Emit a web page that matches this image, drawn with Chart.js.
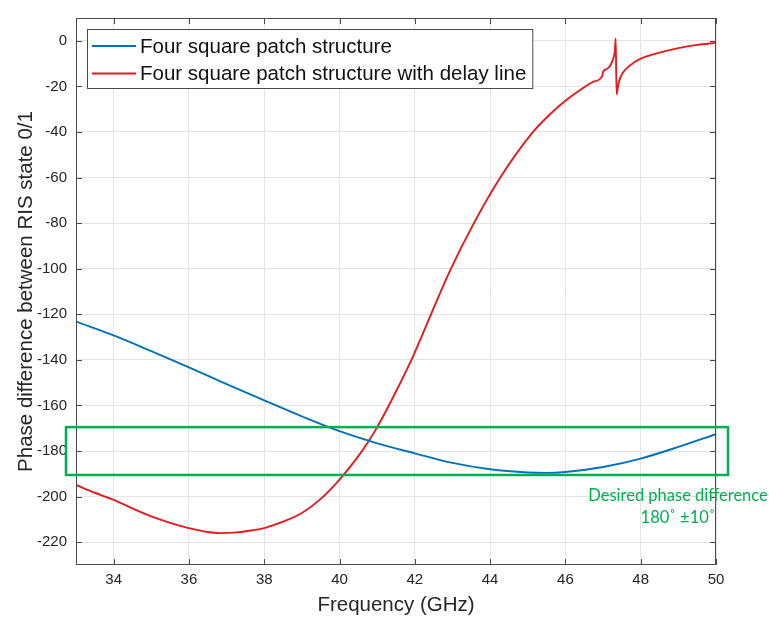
<!DOCTYPE html>
<html>
<head>
<meta charset="utf-8">
<script src="https://cdn.jsdelivr.net/npm/chart.js@4.4.0/dist/chart.umd.min.js"></script>
<style>
html,body{margin:0;padding:0;background:#ffffff;}
#wrap{width:769px;height:618px;position:relative;}
</style>
</head>
<body>
<div id="wrap"><canvas id="c" width="769" height="618"></canvas></div>
<script>
// ---- data ----
const seriesLabels = ["Four square patch structure", "Four square patch structure with delay line"];
const seriesColors = ["#0072BD", "#E8191C"];

const blueFreq = [33, 34, 35, 36, 37, 38, 39, 40, 41, 42, 43, 44, 45, 45.5, 46, 47, 48, 49, 50];
const blueVals = [-123.2, -129.3, -136.2, -143.3, -150.6, -157.8, -164.8, -171.3, -176.6, -181.0, -185.2, -188.0, -189.4, -189.6, -189.2, -187.0, -183.3, -178.2, -172.6];

const redFreq = [33, 33.5, 34, 34.5, 35, 35.5, 36, 36.5, 36.8, 37.2, 37.6, 38, 38.5, 39, 39.5, 40, 40.42, 40.76, 41, 41.31, 41.91, 42.43, 42.96, 43.57, 44.27, 45.14, 45.67, 46, 46.4, 46.74, 46.98, 47.0, 47.1, 47.2, 47.27, 47.31, 47.335, 47.36, 47.4, 47.45, 47.53, 47.7, 48, 48.5, 49, 49.5, 50];
const redVals = [-194.9, -198.3, -201.4, -205.2, -208.7, -211.5, -213.8, -215.5, -216.0, -215.8, -215.0, -213.8, -211.0, -207.2, -201.0, -192.5, -184, -176, -169.5, -160, -140, -120, -100, -80, -60, -40, -31, -26.3, -21.5, -18, -15.4, -13.6, -12.4, -10.6, -7.8, -5, 1.0, -23.5, -19.5, -16.5, -13.9, -11, -7.8, -5.2, -3.2, -1.8, -0.9];

const xTicks = [34, 36, 38, 40, 42, 44, 46, 48, 50];
const yTicks = [-220, -200, -180, -160, -140, -120, -100, -80, -60, -40, -20, 0];
const xRange = [33, 50];
const yRange = [-230, 10];

const bandLimits = [-190.5, -169.5];
const bandText = ["Desired phase difference", "180˚ ±10˚"];
const xTitle = "Frequency (GHz)";
const yTitle = "Phase difference between RIS state 0/1";

// ---- styles ----
const FONT = "'Liberation Sans', Arial, Helvetica, sans-serif";
const AXIS_COLOR = "#4a4a4a";
const GRID_COLOR = "#e4e4e4";
const TEXT_COLOR = "#262626";
const GREEN = "#00B050";

function toPoints(xs, ys) { return xs.map((x, i) => ({ x: x, y: ys[i] })); }

const framePlugin = {
  id: 'frame',
  afterDatasetsDraw(chart) {
    const ctx = chart.ctx;
    const a = chart.chartArea;
    const xs = chart.scales.x, ys = chart.scales.y;
    ctx.save();
    // box border
    ctx.strokeStyle = AXIS_COLOR;
    ctx.lineWidth = 1;
    ctx.strokeRect(a.left + 0.5, a.top + 0.5, a.right - a.left - 1, a.bottom - a.top - 1);
    // inward ticks
    const tl = 6;
    ctx.beginPath();
    xTicks.forEach(v => {
      const px = Math.round(xs.getPixelForValue(v)) + 0.5;
      ctx.moveTo(px, a.bottom); ctx.lineTo(px, a.bottom - tl);
      ctx.moveTo(px, a.top); ctx.lineTo(px, a.top + tl);
    });
    yTicks.forEach(v => {
      const py = Math.round(ys.getPixelForValue(v)) + 0.5;
      ctx.moveTo(a.left, py); ctx.lineTo(a.left + tl, py);
      ctx.moveTo(a.right, py); ctx.lineTo(a.right - tl, py);
    });
    ctx.stroke();

    // desired band box
    const yTop = ys.getPixelForValue(bandLimits[1]);
    const yBot = ys.getPixelForValue(bandLimits[0]);
    ctx.strokeStyle = GREEN;
    ctx.lineWidth = 2.5;
    ctx.strokeRect(a.left - 10, yTop, (a.right + 12) - (a.left - 10), yBot - yTop);
    ctx.fillStyle = GREEN;
    ctx.font = "16.5px Lato, 'Open Sans', sans-serif";
    ctx.textAlign = 'center';
    ctx.textBaseline = 'middle';
    ctx.fillText(bandText[0], a.right - 38, yBot + 21);
    ctx.fillText(bandText[1], a.right - 38, yBot + 43);

    // legend
    const lx = a.left + 11, ly = a.top + 11;
    ctx.font = "20.5px " + FONT;
    const tw = Math.max(...seriesLabels.map(s => ctx.measureText(s).width));
    const w = 53 + tw + 6, h = 59;
    ctx.fillStyle = '#ffffff';
    ctx.fillRect(lx, ly, w, h);
    ctx.strokeStyle = AXIS_COLOR;
    ctx.lineWidth = 1;
    ctx.strokeRect(lx + 0.5, ly + 0.5, w, h);
    seriesLabels.forEach((s, i) => {
      const yy = ly + 17 + i * 27.5;
      ctx.strokeStyle = seriesColors[i];
      ctx.lineWidth = 1.8;
      ctx.beginPath(); ctx.moveTo(lx + 5, yy); ctx.lineTo(lx + 49, yy); ctx.stroke();
      ctx.fillStyle = '#111111';
      ctx.textAlign = 'left';
      ctx.textBaseline = 'middle';
      ctx.fillText(s, lx + 53, yy + 1);
    });
    ctx.restore();
  }
};

new Chart(document.getElementById('c'), {
  type: 'line',
  data: {
    datasets: [
      { label: seriesLabels[0], data: toPoints(blueFreq, blueVals), borderColor: seriesColors[0], borderWidth: 1.9, pointRadius: 0, cubicInterpolationMode: 'monotone', fill: false },
      { label: seriesLabels[1], data: toPoints(redFreq, redVals), borderColor: seriesColors[1], borderWidth: 1.9, pointRadius: 0, cubicInterpolationMode: 'monotone', fill: false }
    ]
  },
  options: {
    responsive: false,
    devicePixelRatio: 1,
    animation: false,
    layout: { padding: { left: 0, top: 15, right: 53, bottom: 0 } },
    plugins: { legend: { display: false }, tooltip: { enabled: false } },
    scales: {
      x: {
        type: 'linear', min: xRange[0], max: xRange[1],
        afterBuildTicks: s => { s.ticks = xTicks.map(v => ({ value: v })); },
        afterFit: s => { s.height = 53; },
        grid: { color: GRID_COLOR, drawTicks: false, lineWidth: 1 },
        border: { display: false },
        ticks: { color: TEXT_COLOR, font: { family: FONT, size: 15 }, padding: 6, maxRotation: 0, autoSkip: false },
        title: { display: true, text: xTitle, color: TEXT_COLOR, font: { family: FONT, size: 20.5 }, padding: { top: 0, bottom: 0 } }
      },
      y: {
        type: 'linear', min: yRange[0], max: yRange[1],
        afterBuildTicks: s => { s.ticks = yTicks.map(v => ({ value: v })); },
        afterFit: s => { s.width = 76; },
        grid: { color: GRID_COLOR, drawTicks: false, lineWidth: 1 },
        border: { display: false },
        ticks: { color: TEXT_COLOR, font: { family: FONT, size: 15 }, padding: 9, autoSkip: false },
        title: { display: true, text: yTitle, color: TEXT_COLOR, font: { family: FONT, size: 20.5 }, padding: { top: 14, bottom: 0 } }
      }
    }
  },
  plugins: [framePlugin]
});
</script>
</body>
</html>
